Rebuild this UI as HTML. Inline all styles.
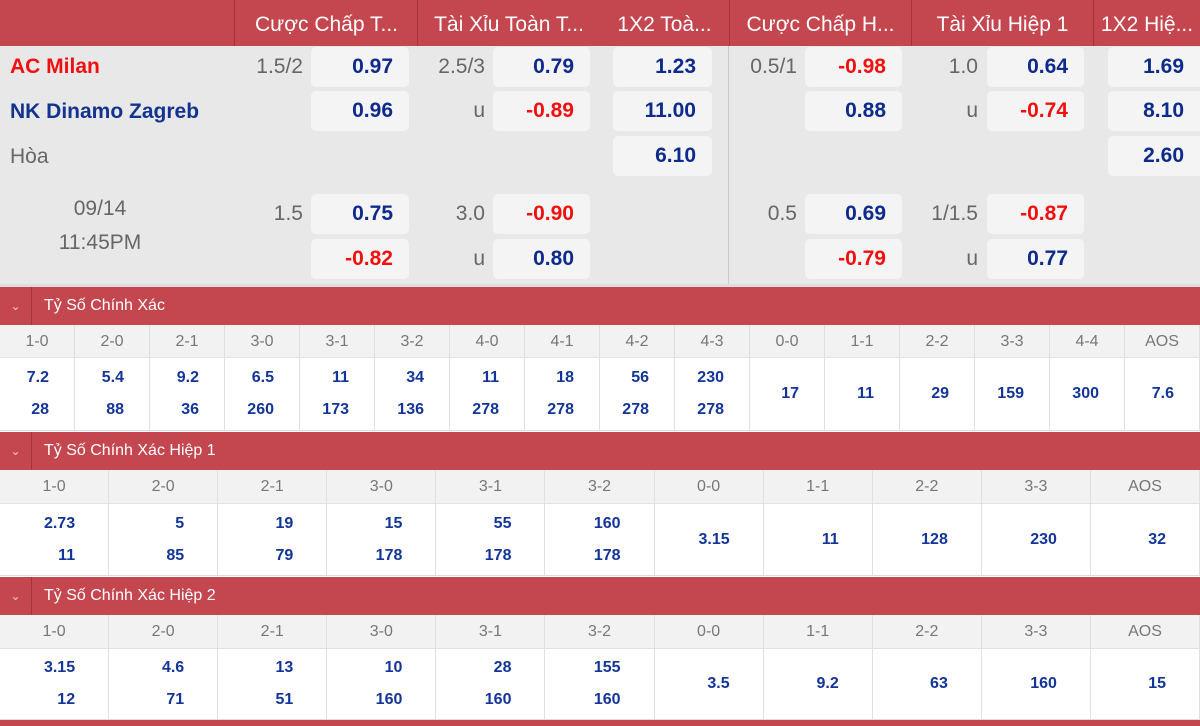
<!DOCTYPE html>
<html><head><meta charset="utf-8">
<style>
*{margin:0;padding:0;box-sizing:border-box}
body{width:1200px;height:726px;overflow:hidden;background:#fff;font-family:"Liberation Sans","DejaVu Sans",sans-serif;position:relative}
.a{position:absolute}
.hdr{left:0;top:0;width:1200px;height:46px;background:#c4464e}
.hc{position:absolute;top:0;height:46px;line-height:50px;color:#fff;font-size:21px;text-align:center;border-left:1px solid #a3343b;white-space:nowrap;overflow:hidden}
.body{left:0;top:46px;width:1200px;height:238px;background:#e8e8e8}
.box{position:absolute;background:#f4f4f4;border-radius:5px;height:40px;line-height:40px;text-align:right;font-weight:bold;font-size:21px;color:#0e2a8c;padding-right:16px}
.r{color:#f01010}
.lb{position:absolute;font-size:21px;color:#666;text-align:right;height:40px;line-height:40px}
.bar{left:0;width:1200px;height:38px;background:#c4464e;color:#fff;font-size:16px;line-height:38px}
.bar span.ch{display:inline-block;width:32px;text-align:center;font-size:12px;border-right:1px solid #a3343b;height:38px;color:#f3c8c8}
.bar span.t{padding-left:12px}
.row{left:0;width:1200px;display:flex}
.row div{flex:1;border-right:1px solid #e0e0e0}
.lab div{background:#f2f2f2;color:#777;font-size:16px;text-align:center;line-height:34px;border-bottom:1px solid #e3e3e3}
.dat div{background:#fff;color:#13359a;font-weight:bold;font-size:16px;text-align:right;padding-right:25px;display:flex;flex-direction:column;justify-content:center;gap:14px;border-bottom:1px solid #ddd}
.s2 div{padding-right:33px}
</style></head><body>
<div class="a hdr">
 <div class="hc" style="left:234px;width:184px">Cược Chấp T...</div>
 <div class="hc" style="left:417px;width:183px">Tài Xỉu Toàn T...</div>
 <div class="hc" style="left:600px;width:129px;border-left:none">1X2 Toà...</div>
 <div class="hc" style="left:729px;width:182px">Cược Chấp H...</div>
 <div class="hc" style="left:911px;width:182px">Tài Xỉu Hiệp 1</div>
 <div class="hc" style="left:1093px;width:107px">1X2 Hiệ...</div>
</div>
<div class="a body">
 <div class="a" style="left:728px;top:0;width:1px;height:238px;background:#c8c8c8"></div>
</div>
<div class="a" style="left:10px;top:46px;height:42px;line-height:42px;font-size:21px;font-weight:bold;color:#f01010">AC Milan</div>
<div class="a" style="left:10px;top:91px;height:42px;line-height:42px;font-size:21px;font-weight:bold;color:#12338f">NK Dinamo Zagreb</div>
<div class="a" style="left:10px;top:136px;height:42px;line-height:42px;font-size:21px;color:#666">Hòa</div>
<div class="a" style="left:0;top:192px;width:200px;text-align:center;font-size:21px;color:#666;line-height:34px">09/14<br>11:45PM</div>

<div class="lb" style="left:240px;width:63px;top:47px">1.5/2</div>
<div class="box" style="left:311px;width:98px;top:47px">0.97</div>
<div class="box" style="left:311px;width:98px;top:91px">0.96</div>
<div class="lb" style="left:240px;width:63px;top:194px">1.5</div>
<div class="box" style="left:311px;width:98px;top:194px">0.75</div>
<div class="box r" style="left:311px;width:98px;top:239px">-0.82</div>

<div class="lb" style="left:420px;width:65px;top:47px">2.5/3</div>
<div class="box" style="left:493px;width:97px;top:47px">0.79</div>
<div class="lb" style="left:420px;width:65px;top:91px">u</div>
<div class="box r" style="left:493px;width:97px;top:91px">-0.89</div>
<div class="lb" style="left:420px;width:65px;top:194px">3.0</div>
<div class="box r" style="left:493px;width:97px;top:194px">-0.90</div>
<div class="lb" style="left:420px;width:65px;top:239px">u</div>
<div class="box" style="left:493px;width:97px;top:239px">0.80</div>

<div class="box" style="left:613px;width:99px;top:47px">1.23</div>
<div class="box" style="left:613px;width:99px;top:91px">11.00</div>
<div class="box" style="left:613px;width:99px;top:136px">6.10</div>

<div class="lb" style="left:735px;width:62px;top:47px">0.5/1</div>
<div class="box r" style="left:805px;width:97px;top:47px">-0.98</div>
<div class="box" style="left:805px;width:97px;top:91px">0.88</div>
<div class="lb" style="left:735px;width:62px;top:194px">0.5</div>
<div class="box" style="left:805px;width:97px;top:194px">0.69</div>
<div class="box r" style="left:805px;width:97px;top:239px">-0.79</div>

<div class="lb" style="left:915px;width:63px;top:47px">1.0</div>
<div class="box" style="left:987px;width:97px;top:47px">0.64</div>
<div class="lb" style="left:915px;width:63px;top:91px">u</div>
<div class="box r" style="left:987px;width:97px;top:91px">-0.74</div>
<div class="lb" style="left:915px;width:63px;top:194px">1/1.5</div>
<div class="box r" style="left:987px;width:97px;top:194px">-0.87</div>
<div class="lb" style="left:915px;width:63px;top:239px">u</div>
<div class="box" style="left:987px;width:97px;top:239px">0.77</div>

<div class="box" style="left:1108px;width:100px;top:47px;padding-right:24px">1.69</div>
<div class="box" style="left:1108px;width:100px;top:91px;padding-right:24px">8.10</div>
<div class="box" style="left:1108px;width:100px;top:136px;padding-right:24px">2.60</div>

<div class="a" style="left:0;top:284px;width:1200px;height:3px;background:#ddd"></div>
<!-- Section 1 -->
<div class="a bar" style="top:287px"><span class="ch">⌄</span><span class="t">Tỷ Số Chính Xác</span></div>
<div class="a row lab" style="top:325px;height:33px"><div>1-0</div><div>2-0</div><div>2-1</div><div>3-0</div><div>3-1</div><div>3-2</div><div>4-0</div><div>4-1</div><div>4-2</div><div>4-3</div><div>0-0</div><div>1-1</div><div>2-2</div><div>3-3</div><div>4-4</div><div>AOS</div></div>
<div class="a row dat" style="top:358px;height:73px">
<div><span>7.2</span><span>28</span></div><div><span>5.4</span><span>88</span></div><div><span>9.2</span><span>36</span></div><div><span>6.5</span><span>260</span></div><div><span>11</span><span>173</span></div><div><span>34</span><span>136</span></div><div><span>11</span><span>278</span></div><div><span>18</span><span>278</span></div><div><span>56</span><span>278</span></div><div><span>230</span><span>278</span></div><div>17</div><div>11</div><div>29</div><div>159</div><div>300</div><div>7.6</div></div>
<!-- Section 2 -->
<div class="a bar" style="top:432px"><span class="ch">⌄</span><span class="t">Tỷ Số Chính Xác Hiệp 1</span></div>
<div class="a row lab" style="top:470px;height:34px"><div>1-0</div><div>2-0</div><div>2-1</div><div>3-0</div><div>3-1</div><div>3-2</div><div>0-0</div><div>1-1</div><div>2-2</div><div>3-3</div><div>AOS</div></div>
<div class="a row dat s2" style="top:504px;height:72px">
<div><span>2.73</span><span>11</span></div><div><span>5</span><span>85</span></div><div><span>19</span><span>79</span></div><div><span>15</span><span>178</span></div><div><span>55</span><span>178</span></div><div><span>160</span><span>178</span></div><div>3.15</div><div>11</div><div>128</div><div>230</div><div>32</div></div>
<!-- Section 3 -->
<div class="a bar" style="top:577px"><span class="ch">⌄</span><span class="t">Tỷ Số Chính Xác Hiệp 2</span></div>
<div class="a row lab" style="top:615px;height:34px"><div>1-0</div><div>2-0</div><div>2-1</div><div>3-0</div><div>3-1</div><div>3-2</div><div>0-0</div><div>1-1</div><div>2-2</div><div>3-3</div><div>AOS</div></div>
<div class="a row dat s2" style="top:649px;height:71px">
<div><span>3.15</span><span>12</span></div><div><span>4.6</span><span>71</span></div><div><span>13</span><span>51</span></div><div><span>10</span><span>160</span></div><div><span>28</span><span>160</span></div><div><span>155</span><span>160</span></div><div>3.5</div><div>9.2</div><div>63</div><div>160</div><div>15</div></div>
<div class="a" style="left:0;top:720px;width:1200px;height:6px;background:#c4464e"></div>
</body></html>
